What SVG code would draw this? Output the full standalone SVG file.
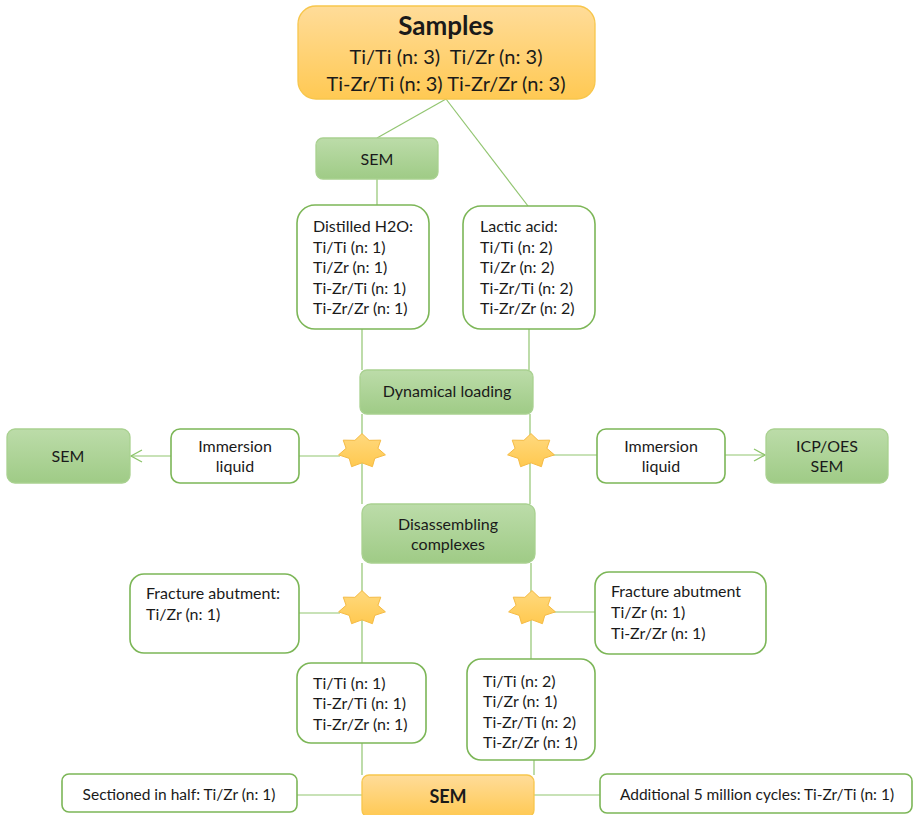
<svg xmlns="http://www.w3.org/2000/svg" xmlns:xlink="http://www.w3.org/1999/xlink" width="914" height="815" viewBox="0 0 914 815">
<defs>
<linearGradient id="gGreen" x1="0" y1="0" x2="0" y2="1"><stop offset="0" stop-color="#bcdca9"/><stop offset="1" stop-color="#9fcb86"/></linearGradient>
<linearGradient id="gOrange" x1="0" y1="0" x2="0" y2="1"><stop offset="0" stop-color="#ffdc99"/><stop offset="1" stop-color="#ffc953"/></linearGradient>
<linearGradient id="gStar" x1="0" y1="0" x2="0" y2="1"><stop offset="0" stop-color="#ffd97e"/><stop offset="1" stop-color="#ffc950"/></linearGradient>
<path id="star" d="M0,-17.4 L7.08,-10.66 L18.76,-10.85 L15.91,-2.63 L23.4,3.87 L12.76,7.38 L10.41,15.68 L0,11.83 L-10.41,15.68 L-12.76,7.38 L-23.4,3.87 L-15.91,-2.63 L-18.76,-10.85 L-7.08,-10.66 Z"/>
<marker id="arr" markerWidth="14" markerHeight="14" refX="12" refY="7" orient="auto" markerUnits="userSpaceOnUse"><path d="M1,1 L12,7 L1,13" fill="none" stroke="#8cc46a" stroke-width="1.3"/></marker>
</defs>
<style>
text{font-family:Lato,"Liberation Sans",sans-serif;fill:#1a1a1a;white-space:pre;}
.gbox{fill:url(#gGreen);stroke:#a9d190;stroke-width:1.3;}
.wbox{fill:#ffffff;stroke:#7cb657;stroke-width:1.6;}
.obox{fill:url(#gOrange);stroke:#f7c64c;stroke-width:1.3;}
.st{fill:url(#gStar);stroke:#f5bb45;stroke-width:1;}
.ln{stroke:#92c571;stroke-width:1.2;fill:none;}
.t{font-size:16px;}
.c{text-anchor:middle;}
</style>
<g id="connectors">
<line class="ln" x1="446" y1="99" x2="377" y2="138"/>
<line class="ln" x1="446" y1="99" x2="528" y2="206"/>
<line class="ln" x1="377" y1="179" x2="377" y2="205"/>
<line class="ln" x1="362" y1="329" x2="362" y2="370"/>
<line class="ln" x1="529" y1="329" x2="529" y2="370"/>
<line class="ln" x1="362" y1="414" x2="362" y2="504"/>
<line class="ln" x1="530" y1="414" x2="530" y2="504"/>
<line class="ln" x1="362" y1="563" x2="362" y2="663"/>
<line class="ln" x1="531" y1="563" x2="531" y2="659"/>
<line class="ln" x1="362" y1="743" x2="362" y2="775"/>
<line class="ln" x1="534" y1="760" x2="534" y2="775"/>
<line class="ln" x1="299" y1="456" x2="340" y2="456"/>
<line class="ln" x1="171" y1="456" x2="131" y2="456" marker-end="url(#arr)"/>
<line class="ln" x1="552" y1="455" x2="597" y2="455"/>
<line class="ln" x1="725" y1="455" x2="765" y2="455" marker-end="url(#arr)"/>
<line class="ln" x1="299" y1="613" x2="340" y2="613"/>
<line class="ln" x1="553" y1="612" x2="595" y2="612"/>
<line class="ln" x1="297" y1="795" x2="362" y2="795"/>
<line class="ln" x1="534" y1="795" x2="600" y2="795"/>
</g>
<g id="samples">
<rect class="obox" x="298" y="6" width="297" height="93" rx="18"/>
<text x="446" y="35" class="c" style="font-size:26px;font-weight:bold">Samples</text>
<text x="446" y="64" class="c" style="font-size:20px" xml:space="preserve">Ti/Ti (n: 3)  Ti/Zr (n: 3)</text>
<text x="446" y="91" class="c" style="font-size:20px">Ti-Zr/Ti (n: 3) Ti-Zr/Zr (n: 3)</text>
</g>
<g id="sem-top">
<rect class="gbox" x="316" y="138" width="122" height="41" rx="7"/>
<text x="377" y="165" class="t c">SEM</text>
</g>
<g id="distilled">
<rect class="wbox" x="297" y="205" width="132" height="124" rx="18"/>
<text class="t" x="313" y="232">Distilled H2O:</text>
<text class="t" x="313" y="253">Ti/Ti (n: 1)</text>
<text class="t" x="313" y="273">Ti/Zr (n: 1)</text>
<text class="t" x="313" y="294">Ti-Zr/Ti (n: 1)</text>
<text class="t" x="313" y="314">Ti-Zr/Zr (n: 1)</text>
</g>
<g id="lactic">
<rect class="wbox" x="463" y="206" width="132" height="123" rx="18"/>
<text class="t" x="480" y="232">Lactic acid:</text>
<text class="t" x="480" y="253">Ti/Ti (n: 2)</text>
<text class="t" x="480" y="273">Ti/Zr (n: 2)</text>
<text class="t" x="480" y="294">Ti-Zr/Ti (n: 2)</text>
<text class="t" x="480" y="314">Ti-Zr/Zr (n: 2)</text>
</g>
<g id="dynamical">
<rect class="gbox" x="360" y="370" width="173" height="44" rx="7"/>
<text class="t c" x="447" y="397">Dynamical loading</text>
</g>
<g id="star-1"><use xlink:href="#star" class="st" transform="translate(362,451)"/></g>
<g id="star-2"><use xlink:href="#star" class="st" transform="translate(531,451)"/></g>
<g id="star-3"><use xlink:href="#star" class="st" transform="translate(362,608)"/></g>
<g id="star-4"><use xlink:href="#star" class="st" transform="translate(532,608)"/></g>
<g id="sem-left">
<rect class="gbox" x="7" y="429" width="123" height="54" rx="8"/>
<text class="t c" x="68" y="462">SEM</text>
</g>
<g id="immersion-left">
<rect class="wbox" x="171" y="429" width="128" height="54" rx="9"/>
<text class="t c" x="235" y="452">Immersion</text>
<text class="t c" x="235" y="472">liquid</text>
</g>
<g id="immersion-right">
<rect class="wbox" x="597" y="429" width="128" height="54" rx="9"/>
<text class="t c" x="661" y="452">Immersion</text>
<text class="t c" x="661" y="472">liquid</text>
</g>
<g id="icp">
<rect class="gbox" x="766" y="429" width="122" height="54" rx="8"/>
<text class="t c" x="827" y="452">ICP/OES</text>
<text class="t c" x="827" y="472">SEM</text>
</g>
<g id="disassembling">
<rect class="gbox" x="362" y="504" width="173" height="59" rx="9"/>
<text class="t c" x="448" y="530">Disassembling</text>
<text class="t c" x="448" y="550">complexes</text>
</g>
<g id="fracture-left">
<rect class="wbox" x="130" y="574" width="169" height="79" rx="14"/>
<text class="t" x="146" y="599">Fracture abutment:</text>
<text class="t" x="146" y="620">Ti/Zr (n: 1)</text>
</g>
<g id="fracture-right">
<rect class="wbox" x="595" y="572" width="171" height="82" rx="14"/>
<text class="t" x="611" y="597">Fracture abutment</text>
<text class="t" x="611" y="618">Ti/Zr (n: 1)</text>
<text class="t" x="611" y="639">Ti-Zr/Zr (n: 1)</text>
</g>
<g id="result-left">
<rect class="wbox" x="297" y="663" width="129" height="80" rx="14"/>
<text class="t" x="313" y="689">Ti/Ti (n: 1)</text>
<text class="t" x="313" y="709">Ti-Zr/Ti (n: 1)</text>
<text class="t" x="313" y="730">Ti-Zr/Zr (n: 1)</text>
</g>
<g id="result-right">
<rect class="wbox" x="467" y="659" width="128" height="101" rx="14"/>
<text class="t" x="483" y="687">Ti/Ti (n: 2)</text>
<text class="t" x="483" y="707">Ti/Zr (n: 1)</text>
<text class="t" x="483" y="728">Ti-Zr/Ti (n: 2)</text>
<text class="t" x="483" y="748">Ti-Zr/Zr (n: 1)</text>
</g>
<g id="sectioned">
<rect class="wbox" x="62" y="774" width="235" height="38" rx="7"/>
<text class="c" x="179" y="800" style="font-size:15.5px">Sectioned in half: Ti/Zr (n: 1)</text>
</g>
<g id="sem-bottom">
<rect class="obox" x="362" y="775" width="172" height="42" rx="7"/>
<text class="c" x="448" y="803" style="font-size:18px;font-weight:bold">SEM</text>
</g>
<g id="additional">
<rect class="wbox" x="600" y="774" width="312" height="39" rx="7"/>
<text class="c" x="757" y="800" style="font-size:15.5px">Additional 5 million cycles: Ti-Zr/Ti (n: 1)</text>
</g>
</svg>
